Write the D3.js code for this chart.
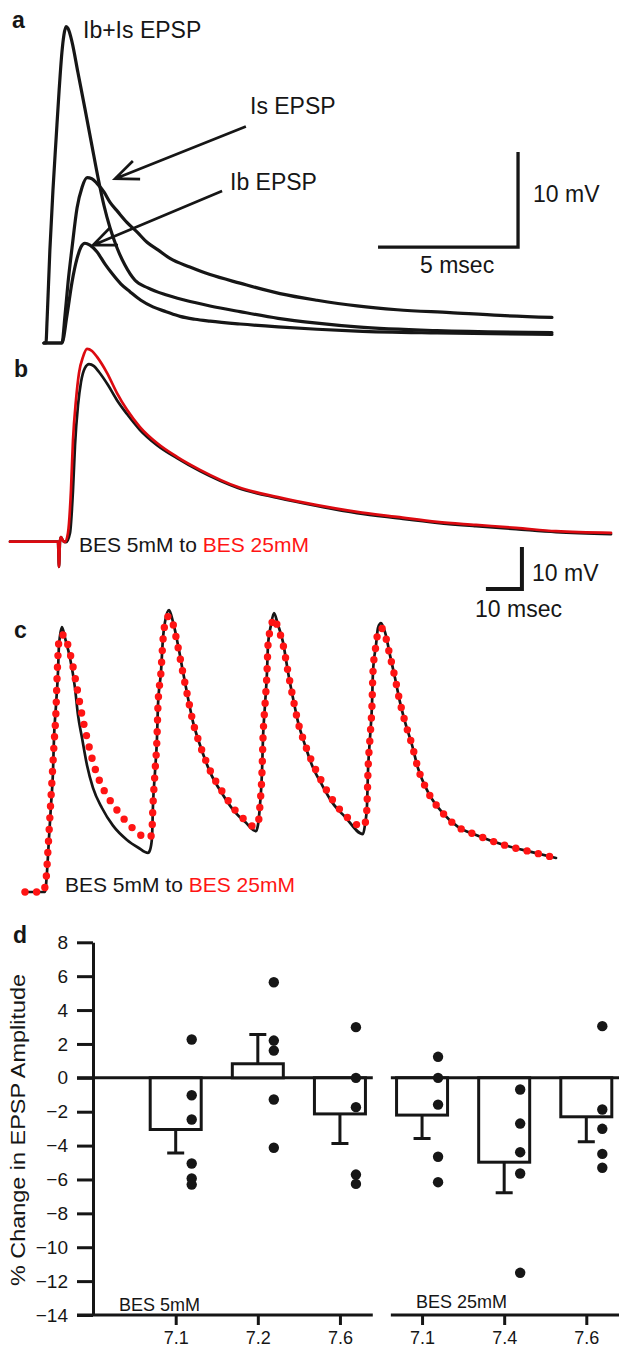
<!DOCTYPE html>
<html>
<head>
<meta charset="utf-8">
<script src="https://cdn.jsdelivr.net/npm/d3@7"></script>
<style>
  body { margin: 0; background: #fff; }
  svg { display: block; }
</style>
</head>
<body>
<div id="fig"></div>
<script>
// panel a: single EPSPs, [ms, mV]
const ibIs = [[0,0],[0.07,0],[0.11,2.4],[0.21,9.8],[0.32,16.1],[0.43,21.4],[0.54,26.6],[0.64,30.6],[0.71,32.4],[0.79,33.3],[0.86,33.1],[1.0,31.7],[1.21,28.5],[1.46,24.7],[1.71,20.8],[1.93,17.4],[2.14,14.5],[2.36,12.1],[2.61,10.0],[2.89,8.2],[3.25,6.6],[3.71,5.8],[4.32,5.1],[5.04,4.5],[5.93,3.9],[7.0,3.3],[8.36,2.6],[9.75,2.1],[11.18,1.7],[14.04,1.3],[18.14,1.1]];
const isEpsp = [[0,0],[0.64,0],[0.75,2.9],[0.86,6.4],[1.0,10.0],[1.18,14.2],[1.36,16.4],[1.54,17.4],[1.71,17.3],[1.89,16.8],[2.14,15.9],[2.36,14.8],[2.64,13.8],[2.96,12.7],[3.32,11.7],[3.68,10.6],[4.07,9.8],[4.5,8.9],[5.21,8.0],[5.93,7.2],[7.0,6.3],[8.43,5.2],[9.75,4.5],[11.18,3.9],[12.61,3.5],[14.5,3.2],[16.29,2.9],[18.14,2.7]];
const ibEpsp = [[0,0],[0.64,0],[0.82,2.9],[1.0,6.4],[1.18,8.9],[1.32,10.1],[1.46,10.5],[1.64,10.3],[1.89,9.6],[2.18,8.3],[2.46,7.2],[2.75,6.2],[3.07,5.4],[3.46,4.5],[3.89,3.8],[4.36,3.3],[4.86,2.8],[5.39,2.5],[5.93,2.3],[7.0,2.0],[8.36,1.7],[9.75,1.45],[11.18,1.25],[14.04,1.05],[18.14,0.9]];

// panel b: single EPSP in BES 5mM (black) and 25mM (red)
const bes5 = [[0,0],[13.33,0],[13.61,-6.0],[13.89,0.2],[14.17,1.1],[14.72,0.2],[15.56,-0.1],[16.67,2.1],[17.5,12.3],[18.06,23.0],[18.89,32.5],[19.72,38.0],[20.83,41.4],[21.94,42.3],[23.33,41.8],[24.72,40.4],[27.22,37.3],[29.72,33.7],[32.5,30.4],[36.11,26.6],[40.83,23.0],[46.39,19.9],[52.78,16.8],[63.33,12.8],[74.44,10.4],[85.28,8.5],[96.39,6.8],[107.5,5.6],[118.61,4.5],[129.44,3.7],[140.56,3.0],[151.67,2.3],[166.94,1.8]];
const bes25 = [[0,0],[13.33,0],[13.61,-6.0],[13.89,0.2],[14.17,1.1],[14.72,0.2],[15.28,-0.1],[16.11,2.1],[16.94,12.3],[17.5,24.2],[18.33,33.7],[19.17,40.2],[20.28,44.0],[21.39,45.9],[22.78,45.4],[24.17,44.0],[26.94,40.2],[29.72,35.4],[32.5,31.4],[36.11,27.3],[40.83,23.5],[46.39,20.2],[52.78,17.1],[63.33,13.0],[74.44,10.6],[85.28,8.7],[96.39,7.1],[107.5,5.9],[118.61,4.7],[129.44,4.0],[140.56,3.3],[151.67,2.5],[166.94,2.1]];

// panel c: train of four EPSPs
const train5 = [[0,0],[6.11,0],[6.67,4.8],[7.22,12.9],[7.78,20.7],[8.33,28.6],[8.61,36.7],[9.17,44.5],[9.72,52.4],[10.0,58.8],[10.83,63.1],[11.67,60.5],[13.06,55.7],[14.44,48.6],[15.28,42.1],[16.39,36.7],[17.78,30.2],[19.44,24.8],[21.94,20.0],[25.0,15.8],[28.89,12.4],[31.94,10.6],[34.72,9.3],[35.28,10.0],[35.83,12.9],[36.11,20.7],[36.67,28.6],[37.22,36.7],[37.5,44.5],[38.33,52.4],[38.89,60.5],[39.44,64.3],[40.56,67.1],[41.67,64.3],[43.06,58.8],[44.44,52.4],[45.83,46.2],[47.22,40.5],[49.17,35.0],[51.94,28.6],[55.56,23.1],[58.89,19.0],[61.67,16.7],[64.72,14.5],[65.28,16.0],[65.83,20.7],[66.39,28.6],[66.67,36.7],[67.22,44.5],[67.78,52.4],[68.06,58.8],[68.89,63.6],[69.72,66.4],[70.83,63.6],[72.22,59.5],[73.61,52.4],[75.0,46.2],[76.39,40.5],[78.33,35.0],[80.28,30.2],[83.06,25.5],[85.83,21.4],[89.44,17.9],[94.44,13.8],[95.0,16.0],[95.56,20.7],[95.83,28.6],[96.39,36.7],[96.94,44.5],[97.22,52.4],[98.06,58.8],[98.61,62.9],[99.44,64.0],[100.56,61.9],[101.94,56.4],[103.33,51.0],[104.72,45.2],[106.11,40.5],[108.06,35.0],[109.72,29.5],[112.5,23.8],[116.39,19.0],[120.83,15.5],[125.83,13.6],[133.61,11.2],[141.39,9.5],[148.06,8.1]];
const train25 = [[0.56,0],[5.56,0],[6.39,2.9],[6.94,10.0],[7.5,18.3],[8.06,26.7],[8.61,35.0],[9.17,43.3],[9.44,50.5],[9.72,56.4],[10.0,60.0],[10.56,61.2],[11.39,61.2],[12.22,59.5],[13.61,54.8],[15.0,48.6],[16.39,42.1],[17.78,36.7],[19.44,31.0],[21.39,26.2],[23.61,22.6],[26.11,19.5],[28.33,17.1],[31.67,14.3],[34.17,12.9],[35.56,13.3],[35.83,14.8],[36.11,20.7],[36.67,28.6],[37.22,36.7],[37.5,44.5],[38.33,52.4],[38.89,60.0],[39.72,64.8],[40.56,65.7],[41.67,63.8],[43.06,58.3],[44.44,52.1],[45.83,46.2],[47.22,40.5],[49.17,35.0],[51.94,29.0],[55.56,23.6],[58.89,19.5],[61.67,17.1],[63.89,15.7],[65.28,16.2],[65.83,20.7],[66.39,28.6],[66.67,36.7],[67.22,44.5],[67.78,52.4],[68.06,58.8],[68.89,63.1],[69.72,65.2],[70.83,62.9],[72.22,59.0],[73.61,52.4],[75.0,46.2],[76.39,40.5],[78.33,35.2],[80.28,31.0],[83.06,26.2],[85.83,22.1],[89.44,18.3],[92.78,16.0],[94.44,15.7],[95.28,17.1],[95.56,20.7],[95.83,28.6],[96.39,36.7],[96.94,44.5],[97.22,52.4],[98.06,58.8],[98.61,61.9],[99.44,62.9],[100.56,61.2],[101.94,56.2],[103.33,51.0],[104.72,45.2],[106.11,40.5],[108.06,35.0],[109.72,29.5],[112.5,23.8],[116.39,19.0],[120.83,15.5],[125.83,13.6],[133.61,11.2],[141.39,9.5],[148.06,8.1]];

// panel d: % change in EPSP amplitude by pH
const groups = ['7.1', '7.2', '7.6', '7.1', '7.4', '7.6'];
const means = [-3.05, 0.83, -2.13, -2.2, -4.98, -2.3];
const sems = [1.38, 1.73, 1.75, 1.38, 1.81, 1.48];
const cells = [
  [2.26, -1.03, -2.46, -5.06, -5.94, -6.3],
  [5.64, 2.2, 1.61, -1.28, -4.13],
  [2.99, 0, -1.73, -5.71, -6.26],
  [1.24, 0, -1.58, -4.66, -6.16],
  [-0.69, -2.7, -4.39, -5.65, -11.51],
  [3.05, -1.87, -3.01, -4.49, -5.31]
];
const yTicks = [8, 6, 4, 2, 0, -2, -4, -6, -8, -10, -12, -14];

const W = 619, H = 1349;
const FONT = "'Liberation Sans', Arial, Helvetica, sans-serif";
const ink = '#161616';
const red = '#dc0a10';
const dotRed = '#ff1414';

const svg = d3.select('#fig')
  .append('svg')
  .attr('width', W)
  .attr('height', H)
  .attr('font-family', FONT);

svg.append('rect').attr('width', W).attr('height', H).attr('fill', '#fff');

function letter(t, x, y) {
  svg.append('text')
    .attr('x', x).attr('y', y)
    .attr('font-size', 23).attr('font-weight', 'bold').attr('fill', ink)
    .text(t);
}

function label(t, x, y, size, color) {
  return svg.append('text')
    .attr('x', x).attr('y', y)
    .attr('font-size', size).attr('fill', color || ink)
    .text(t);
}

function trace(g, data, line, color, width) {
  return g.append('path')
    .attr('d', line(data))
    .attr('fill', 'none')
    .attr('stroke', color)
    .attr('stroke-width', width)
    .attr('stroke-linejoin', 'round')
    .attr('stroke-linecap', 'round');
}

function arrow(g, from, to, sx, sy) {
  const x1 = sx(from[0]), y1 = sy(from[1]);
  const x2 = sx(to[0]), y2 = sy(to[1]);
  const ang = Math.atan2(y1 - y2, x1 - x2);
  const len = 25, spread = 0.4;
  g.append('path')
    .attr('d', `M${x1},${y1}L${x2},${y2}` +
      `M${x2 + len * Math.cos(ang - spread)},${y2 + len * Math.sin(ang - spread)}` +
      `L${x2},${y2}L${x2 + len * Math.cos(ang + spread)},${y2 + len * Math.sin(ang + spread)}`)
    .attr('fill', 'none')
    .attr('stroke', ink)
    .attr('stroke-width', 2.7);
}

// ---------- a
const xa = d3.scaleLinear().domain([0, 20]).range([44, 604]);
const ya = d3.scaleLinear().domain([0, 10]).range([343, 248]);
const lineA = d3.line().x(d => xa(d[0])).y(d => ya(d[1])).curve(d3.curveMonotoneX);
const ga = svg.append('g');

[ibIs, isEpsp, ibEpsp].forEach(s => trace(ga, s, lineA, ink, 3.2));

arrow(ga, [7.21, 22.8], [2.54, 17.3], xa, ya);
arrow(ga, [6.36, 16.0], [1.75, 10.3], xa, ya);

ga.append('path')
  .attr('d', `M${xa(11.93)},${ya(10.1)}H${xa(16.93)}V${ya(20.1)}`)
  .attr('fill', 'none').attr('stroke', ink).attr('stroke-width', 3.3);

letter('a', 12, 28);
label('Ib+Is EPSP', 83, 38, 23);
label('Is EPSP', 250, 114, 23);
label('Ib EPSP', 230, 190, 23);
label('10 mV', 533, 202, 23);
label('5 msec', 420, 273, 23);

// ---------- b
const xb = d3.scaleLinear().domain([0, 100]).range([10, 370]);
const yb = d3.scaleLinear().domain([0, 10]).range([541.7, 499.7]);
const lineB = d3.line().x(d => xb(d[0])).y(d => yb(d[1])).curve(d3.curveMonotoneX);
const gb = svg.append('g');

trace(gb, bes5, lineB, ink, 2.7);
trace(gb, bes25, lineB, red, 2.7);

gb.append('path')
  .attr('d', `M${xb(132.2)},${yb(-11.26)}H${xb(142.2)}V${yb(-1.26)}`)
  .attr('fill', 'none').attr('stroke', ink).attr('stroke-width', 4);

letter('b', 14, 377);
const tb = label('BES 5mM to ', 79, 552, 21);
tb.append('tspan').attr('fill', dotRed).text('BES 25mM');
label('10 mV', 532, 581, 23);
label('10 msec', 475, 617, 23);

// ---------- c
const xc = d3.scaleLinear().domain([0, 100]).range([23, 383]);
const yc = d3.scaleLinear().domain([0, 10]).range([892, 850]);
const lineC = d3.line().x(d => xc(d[0])).y(d => yc(d[1])).curve(d3.curveMonotoneX);
const gc = svg.append('g');

trace(gc, train5, lineC, ink, 2.7);
trace(gc, train25, lineC, dotRed, 7.4)
  .attr('stroke-dasharray', '0 11.6');

letter('c', 14, 638);
const tc = label('BES 5mM to ', 65, 892, 21);
tc.append('tspan').attr('fill', dotRed).text('BES 25mM');

// ---------- d
const idx = groups.map((g, i) => i);
const xd = d3.scalePoint().domain(idx).range([175.7, 586.3]);
const yd = d3.scaleLinear().domain([-14, 8]).range([1315, 942.3]);
const axisX = 93, tickLen = 16;
const gd = svg.append('g');

const step = xd.step();
const segments = [
  [axisX - tickLen, xd(2) + 0.4 * step],
  [xd(3) - 0.38 * step, W]
];

[0, -14].forEach(v => {
  segments.forEach(s => {
    gd.append('line')
      .attr('x1', s[0]).attr('x2', s[1])
      .attr('y1', yd(v)).attr('y2', yd(v))
      .attr('stroke', ink).attr('stroke-width', 3);
  });
});

const barW = 51, capW = 17, dotDx = 16;

gd.selectAll('rect.bar')
  .data(means)
  .enter()
  .append('rect')
  .attr('class', 'bar')
  .attr('x', (d, i) => xd(i) - barW / 2)
  .attr('width', barW)
  .attr('y', d => yd(Math.max(0, d)))
  .attr('height', d => Math.abs(yd(d) - yd(0)))
  .attr('fill', '#fff')
  .attr('stroke', ink)
  .attr('stroke-width', 3);

means.forEach((m, i) => {
  const end = m + Math.sign(m) * sems[i];
  gd.append('path')
    .attr('d', `M${xd(i)},${yd(m)}V${yd(end)}M${xd(i) - capW / 2},${yd(end)}H${xd(i) + capW / 2}`)
    .attr('fill', 'none').attr('stroke', ink).attr('stroke-width', 3);
});

cells.forEach((vals, i) => {
  gd.selectAll(null)
    .data(vals)
    .enter()
    .append('circle')
    .attr('cx', xd(i) + dotDx)
    .attr('cy', d => yd(d))
    .attr('r', 5.2)
    .attr('fill', ink);
});

gd.append('g')
  .attr('transform', `translate(${axisX},0)`)
  .call(d3.axisLeft(yd).tickValues(yTicks).tickSize(tickLen).tickPadding(9).tickSizeOuter(0))
  .attr('font-size', 19).attr('font-family', FONT)
  .call(g => g.selectAll('line, path').attr('stroke', ink).attr('stroke-width', 3))
  .call(g => g.selectAll('text').attr('fill', ink));

gd.append('g')
  .attr('transform', `translate(0,${yd(-14)})`)
  .call(d3.axisBottom(xd).tickFormat(i => groups[i]).tickSize(10).tickPadding(6))
  .attr('font-size', 18).attr('font-family', FONT)
  .call(g => g.select('.domain').remove())
  .call(g => g.selectAll('line').attr('stroke', ink).attr('stroke-width', 3))
  .call(g => g.selectAll('text').attr('fill', ink));

letter('d', 13, 943);
label('BES 5mM', 119, 1311, 18);
label('BES 25mM', 416, 1308, 18);

svg.append('text')
  .attr('transform', 'translate(25,1130) rotate(-90)')
  .attr('text-anchor', 'middle')
  .attr('font-size', 21)
  .attr('fill', ink)
  .attr('textLength', 312)
  .attr('lengthAdjust', 'spacingAndGlyphs')
  .text('% Change in EPSP Amplitude');
</script>
</body>
</html>
